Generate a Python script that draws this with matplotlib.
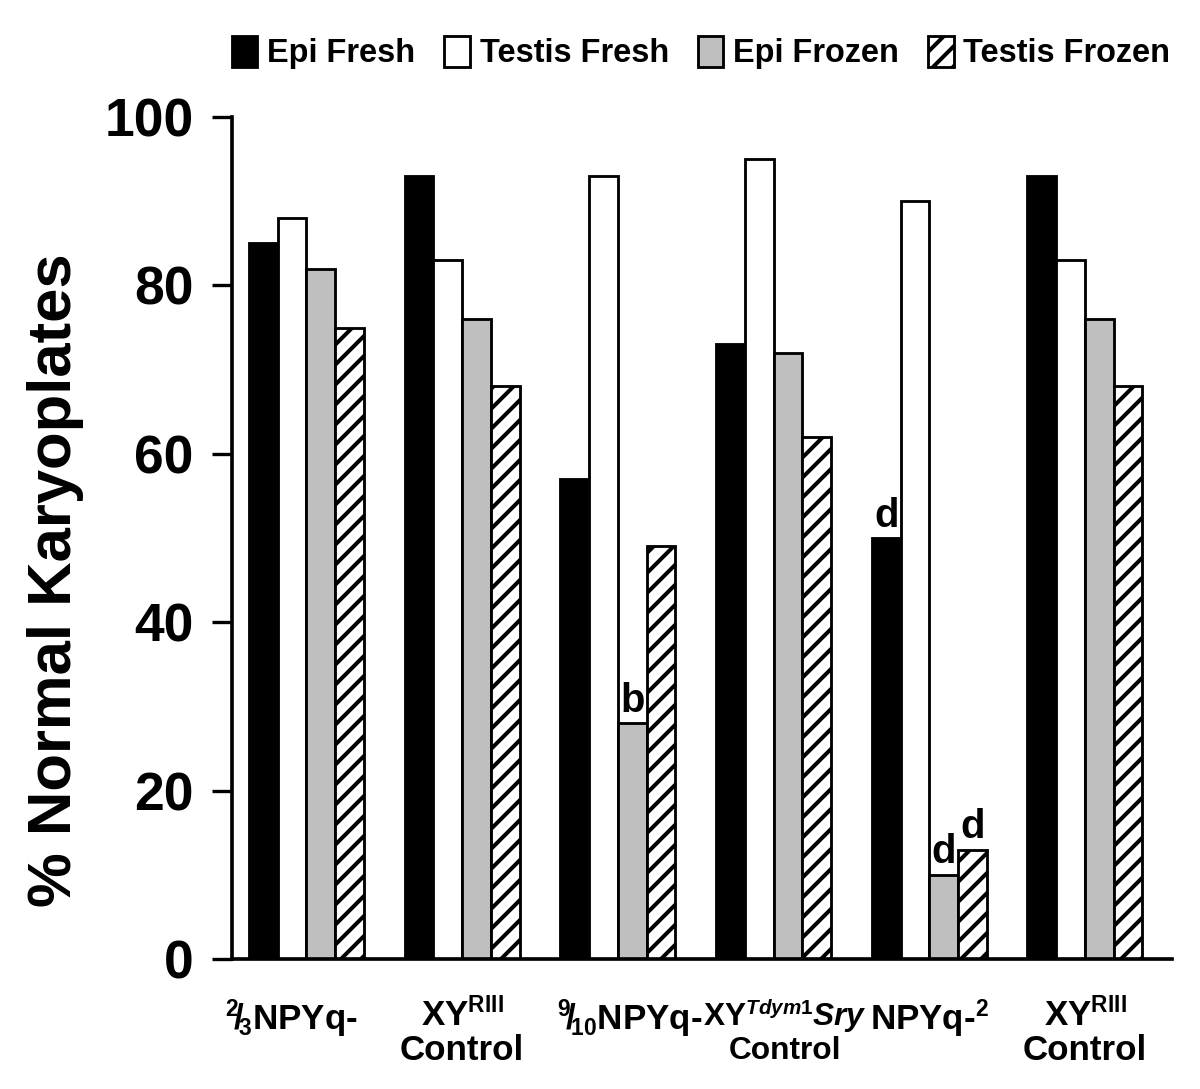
import matplotlib
matplotlib.use("Agg")
import matplotlib.pyplot as plt
import matplotlib.transforms as mtransforms
import matplotlib._mathtext as mathtext_internals
import numpy as np

# data
groups = [r"$^{2}\!/\!_{3}$NPYq-",
          "XY$^{\\mathrm{RIII}}$\nControl",
          r"$^{9}\!/\!_{10}$NPYq-",
          "XY$^{\\mathit{Tdym1}}\\mathit{Sry}$\nControl",
          "NPYq-$^{2}$",
          "XY$^{\\mathrm{RIII}}$\nControl"]
series = ["Epi Fresh", "Testis Fresh", "Epi Frozen", "Testis Frozen"]
epi_fresh = [85, 93, 57, 73, 50, 93]
testis_fresh = [88, 83, 93, 95, 90, 83]
epi_frozen = [82, 76, 28, 72, 10, 76]
testis_frozen = [75, 68, 49, 62, 13, 68]
# significance letters: (group, series, letter)
marks = [(2, 2, "b"), (4, 0, "d"), (4, 2, "d"), (4, 3, "d")]

# slightly smaller super/subscripts, as in the original labels
mathtext_internals.SHRINK_FACTOR = 0.65

plt.rcParams['font.family'] = ['Liberation Sans', 'DejaVu Sans']
plt.rcParams['font.weight'] = 'bold'
plt.rcParams['mathtext.fontset'] = 'custom'
plt.rcParams['mathtext.rm'] = 'Liberation Sans:bold'
plt.rcParams['mathtext.bf'] = 'Liberation Sans:bold'
plt.rcParams['mathtext.it'] = 'Liberation Sans:bold:italic'
plt.rcParams['mathtext.default'] = 'rm'
plt.rcParams['hatch.linewidth'] = 2.4

fig = plt.figure(figsize=(10, 9.075), dpi=120)
ax = fig.add_axes([232 / 1200, 1 - 959 / 1089, 940 / 1200, 842 / 1089])

values = [epi_fresh, testis_fresh, epi_frozen, testis_frozen]
colors = ['black', 'white', '#bfbfbf', 'white']
hatches = [None, None, None, '//']
w = 0.1847
x = np.arange(len(groups))

for i, (vals, c, h, name) in enumerate(zip(values, colors, hatches, series)):
    ax.bar(x + (i - 1.5) * w, vals, w, color=c, edgecolor='black',
           linewidth=1.7, hatch=h, label=name)

for g, s, letter in marks:
    ax.text(x[g] + (s - 1.5) * w, values[s][g] + 0.4, letter,
            ha='center', va='bottom', fontsize=24, fontweight='bold')

ax.set_xlim(-0.4785, 5.559)
ax.set_ylim(0, 100)
ax.set_yticks([0, 20, 40, 60, 80, 100])
ax.set_xticks(x)
ax.set_xticklabels(groups, fontsize=21, fontweight='bold', linespacing=1.05)
ax.tick_params(axis='x', length=0, pad=23)
ax.tick_params(axis='y', length=12, width=2, labelsize=32, pad=11)
for lab in ax.get_yticklabels():
    lab.set_fontweight('bold')

# per-label size and horizontal nudge (points)
label_sizes = [21, 21, 21, 19, 21, 21]
nudges = [-9, 0, 7, 7, 0, 0]
for lab, fs, dx in zip(ax.get_xticklabels(), label_sizes, nudges):
    lab.set_fontsize(fs)
    lab.set_transform(lab.get_transform() +
                      mtransforms.ScaledTranslation(dx / 72, 0, fig.dpi_scale_trans))

for side in ['top', 'right']:
    ax.spines[side].set_visible(False)
for side in ['left', 'bottom']:
    ax.spines[side].set_linewidth(2.2)

ax.set_ylabel("% Normal Karyoplates", fontsize=37, fontweight='bold')
ax.yaxis.set_label_coords(-0.157, 0.45)

fig.legend(loc='upper left', bbox_to_anchor=(232 / 1200, 1 - 36 / 1089),
           ncol=4, frameon=False, fontsize=19.5, handlelength=0.78,
           handleheight=1.08, handletextpad=0.3, columnspacing=0.9,
           borderpad=0, borderaxespad=0)

fig.savefig("out.png", dpi=120)
